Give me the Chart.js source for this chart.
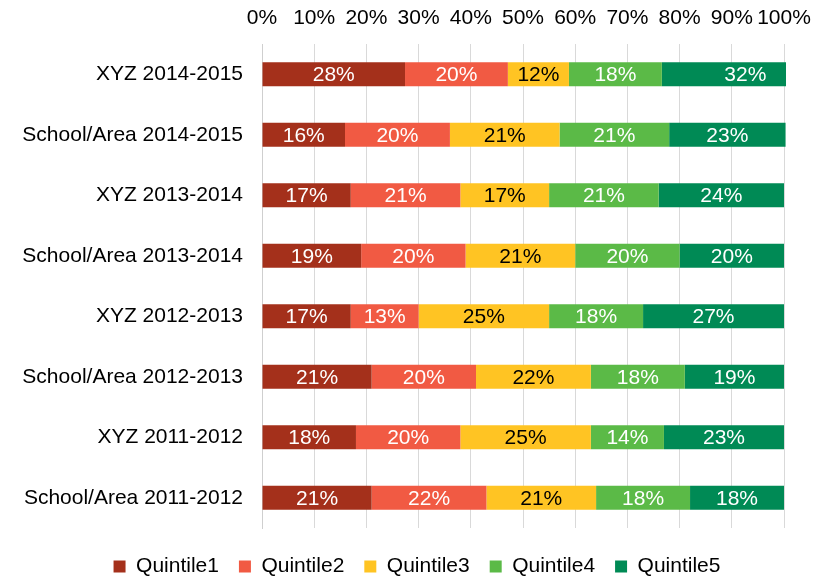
<!DOCTYPE html>
<html>
<head>
<meta charset="utf-8">
<script src="https://cdn.jsdelivr.net/npm/chart.js@4/dist/chart.umd.min.js"></script>
<style>
  html, body { margin: 0; padding: 0; background: #fff; }
  #wrap { width: 828px; height: 579px; }
</style>
</head>
<body>
<div id="wrap"><canvas id="chart_quintiles" width="828" height="579"></canvas></div>
<script>
// rows, top to bottom
const categories = [
  'XYZ 2014-2015', 'School/Area 2014-2015',
  'XYZ 2013-2014', 'School/Area 2013-2014',
  'XYZ 2012-2013', 'School/Area 2012-2013',
  'XYZ 2011-2012', 'School/Area 2011-2012'
];
const seriesNames = ['Quintile1', 'Quintile2', 'Quintile3', 'Quintile4', 'Quintile5'];
const seriesColors = ['#A4301B', '#F15A43', '#FFC423', '#5BBA47', '#008A55'];
const labelColors = ['#fff', '#fff', '#000', '#fff', '#fff'];

// bar lengths (percent)
const quintile1 = [27.4, 15.9, 17, 19, 17, 21, 18, 21];
const quintile2 = [19.7, 20.1, 21, 20, 13, 20, 20, 22];
const quintile3 = [11.7, 21, 17, 21, 25, 22, 25, 21];
const quintile4 = [17.8, 21, 21, 20, 18, 18, 14, 18];
const quintile5 = [32, 22.3, 24, 20, 27, 19, 23, 18];

// printed labels as they appear in the bars
const quintile1Labels = ['28%', '16%', '17%', '19%', '17%', '21%', '18%', '21%'];
const quintile2Labels = ['20%', '20%', '21%', '20%', '13%', '20%', '20%', '22%'];
const quintile3Labels = ['12%', '21%', '17%', '21%', '25%', '22%', '25%', '21%'];
const quintile4Labels = ['18%', '21%', '21%', '20%', '18%', '18%', '14%', '18%'];
const quintile5Labels = ['32%', '23%', '24%', '20%', '27%', '19%', '23%', '18%'];

const xTicks = [0, 10, 20, 30, 40, 50, 60, 70, 80, 90, 100];

const seriesValues = [quintile1, quintile2, quintile3, quintile4, quintile5];
const seriesLabels = [quintile1Labels, quintile2Labels, quintile3Labels, quintile4Labels, quintile5Labels];

const FONT = '"Liberation Sans", Arial, sans-serif';

// draws the value text centred on each bar segment
const barLabels = {
  id: 'barLabels',
  afterLayout(chart) {
    // legend sits a bit right of centre in the original
    chart.legend.right += 50;
  },
  afterDatasetsDraw(chart) {
    const ctx = chart.ctx;
    ctx.save();
    ctx.font = '21px ' + FONT;
    ctx.textAlign = 'center';
    ctx.textBaseline = 'middle';
    chart.data.datasets.forEach((ds, i) => {
      chart.getDatasetMeta(i).data.forEach((bar, j) => {
        ctx.fillStyle = labelColors[i];
        ctx.fillText(seriesLabels[i][j], (bar.x + bar.base) / 2, bar.y + 1);
      });
    });
    ctx.restore();
  }
};

const datasets = seriesNames.map((name, i) => ({
  label: name,
  data: seriesValues[i],
  backgroundColor: seriesColors[i],
  borderWidth: 0,
  barPercentage: 0.4,
  categoryPercentage: 1,
  clip: { left: 0, right: 2, top: false, bottom: false }
}));

const elem = document.getElementById('chart_quintiles');
const chart = new Chart(elem.getContext('2d'), {
  type: 'bar',
  data: { labels: categories, datasets: datasets },
  plugins: [barLabels],
  options: {
    indexAxis: 'y',
    responsive: false,
    animation: false,
    events: [],
    layout: { padding: { left: 0, right: 44, top: 0, bottom: -8 } },
    scales: {
      x: {
        position: 'top',
        stacked: true,
        min: 0,
        max: 100,
        afterBuildTicks: (scale) => { scale.ticks = xTicks.map(v => ({ value: v })); },
        afterFit: (scale) => { scale.height = 44; },
        grid: { color: '#D9D9D9', lineWidth: 1, drawTicks: false },
        border: { display: false },
        ticks: {
          padding: 13,
          autoSkip: false,
          color: '#000',
          font: { family: FONT, size: 21 },
          maxRotation: 0,
          callback: (v) => v + '%'
        }
      },
      y: {
        stacked: true,
        afterFit: (scale) => { scale.width = 262; },
        grid: { display: false, drawTicks: false },
        border: { display: true, color: '#CFCFCF', width: 1 },
        ticks: {
          padding: 19,
          color: '#000',
          font: { family: FONT, size: 21 }
        }
      }
    },
    plugins: {
      legend: {
        position: 'bottom',
        title: { display: true, text: '', padding: 0, font: { size: 5, lineHeight: 1.6 } },
        labels: {
          boxWidth: 12,
          boxHeight: 12,
          padding: 20,
          color: '#000',
          font: { family: FONT, size: 21 }
        }
      },
      tooltip: { enabled: false }
    }
  }
});
</script>
</body>
</html>
